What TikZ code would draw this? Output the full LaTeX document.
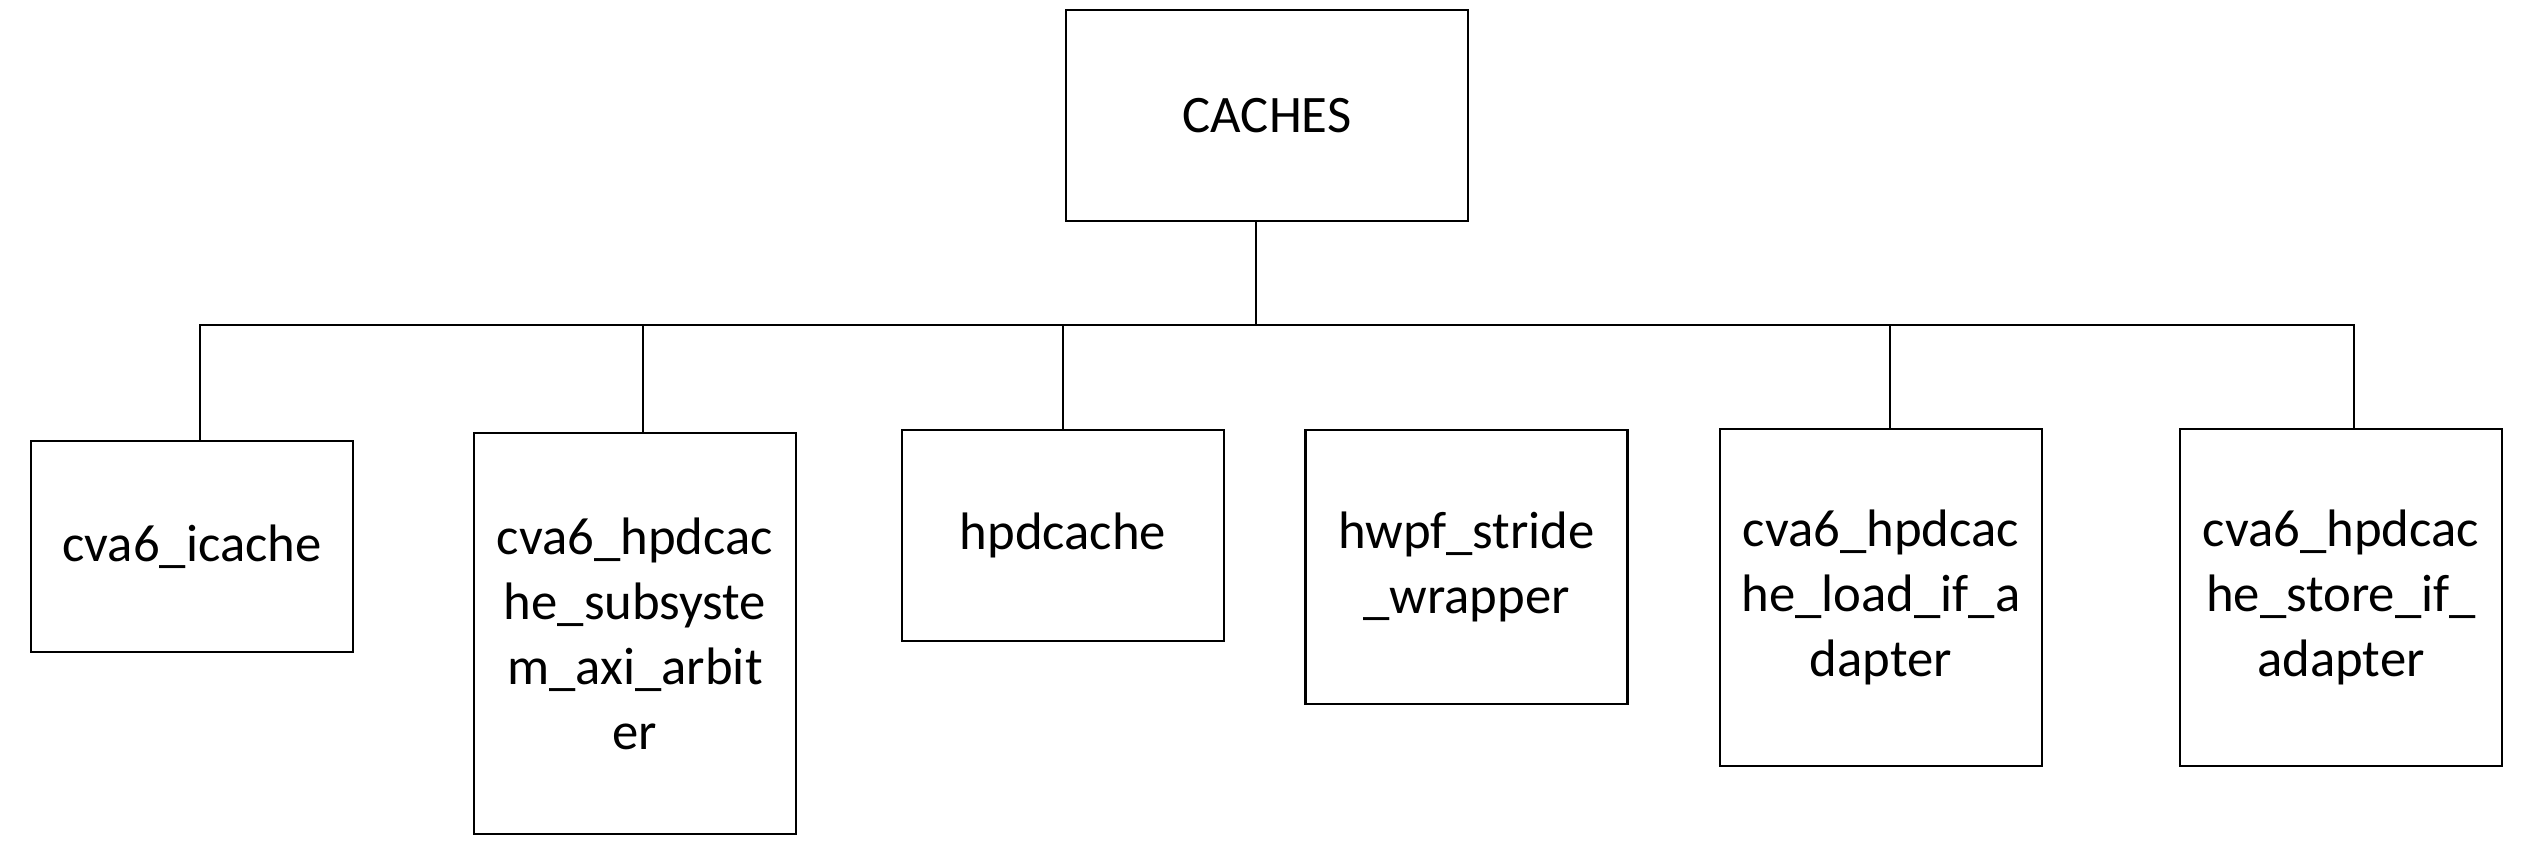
\documentclass[tikz,border=0pt]{standalone}
\usepackage{fontspec}
\setmainfont{Carlito}
\usepackage{tikz}
\usetikzlibrary{arrows,shapes,positioning}

\tikzset{
	block/.style={draw, rectangle, line width=0.6pt, align=center, inner sep=0pt,
		font=\fontsize{15}{18.5}\selectfont, minimum width=3.22cm},
	link/.style={line width=0.7pt}
}

\begin{document}
\begin{tikzpicture}
			\useasboundingbox (0,0) rectangle (25.34,-8.49);
			
			\node[block, minimum width=4.02cm, minimum height=2.11cm] (caches) at (12.67,-1.155) {CACHES} ;
			\node[block, minimum height=2.11cm] (icache) at (1.92,-5.465) {cva6\_icache} ;
			\node[block, minimum height=4.01cm] (subsys) at (6.35,-6.335) {cva6\_hpdcac\\he\_subsyste\\m\_axi\_arbit\\er} ;
			\node[block, minimum height=2.11cm] (hpdcache) at (10.63,-5.355) {hpdcache} ;
			\node[block, minimum height=2.74cm] (hwpf) at (14.665,-5.67) {hwpf\_stride\\\_wrapper} ;
			\node[block, minimum height=3.37cm] (load) at (18.81,-5.975) {cva6\_hpdcac\\he\_load\_if\_a\\dapter} ;
			\node[block, minimum height=3.37cm] (store) at (23.41,-5.975) {cva6\_hpdcac\\he\_store\_if\_\\adapter} ;
			
			\coordinate (bus) at (0,-3.25) ;
			
			\draw[link] ([xshift=-0.11cm]caches.south) -- ([xshift=-0.11cm]caches.south |- bus) ;
			\draw[link] ([xshift=0.08cm]icache.north) |- ([xshift=0.13cm]store.north |- bus) -- ([xshift=0.13cm]store.north) ;
			\draw[link] ([xshift=0.08cm]subsys.north) -- ([xshift=0.08cm]subsys.north |- bus) ;
			\draw[link] (hpdcache.north) -- (hpdcache.north |- bus) ;
			\draw[link] ([xshift=0.09cm]load.north) -- ([xshift=0.09cm]load.north |- bus) ;
		\end{tikzpicture}
\end{document}
